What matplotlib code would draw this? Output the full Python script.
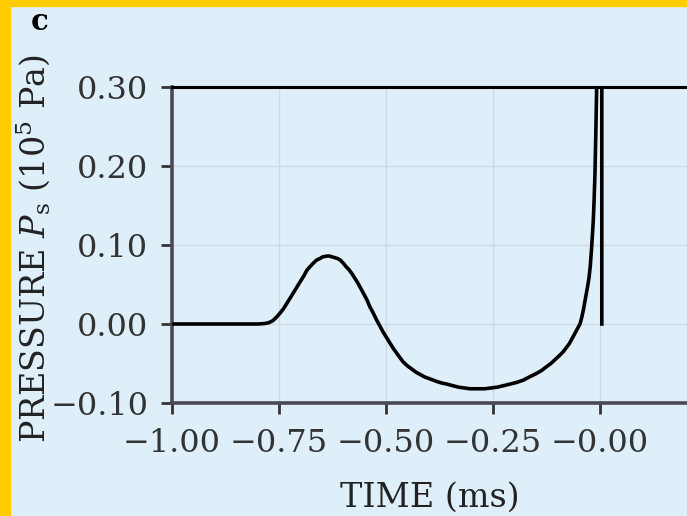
import matplotlib
matplotlib.use('Agg')
from matplotlib import pyplot as plt
from matplotlib.patches import Rectangle

# values
time_ms = [-1.00, -0.90, -0.80, -0.785, -0.775, -0.765, -0.757, -0.748, -0.740, -0.733,
           -0.725, -0.717, -0.708, -0.700, -0.692, -0.685, -0.677, -0.670, -0.662, -0.654,
           -0.648, -0.643, -0.637, -0.632, -0.626, -0.620, -0.614, -0.607, -0.600, -0.594,
           -0.587, -0.580, -0.573, -0.566, -0.560, -0.553, -0.545, -0.538, -0.530, -0.522,
           -0.514, -0.507, -0.499, -0.491, -0.483, -0.475, -0.467, -0.460, -0.450, -0.44,
           -0.43, -0.42, -0.41, -0.40, -0.39, -0.38, -0.368, -0.358, -0.345, -0.33,
           -0.317, -0.304, -0.287, -0.27, -0.255, -0.241, -0.225, -0.21, -0.195, -0.179,
           -0.165, -0.15, -0.137, -0.125, -0.115, -0.105, -0.095, -0.086, -0.079, -0.072,
           -0.066, -0.060, -0.054, -0.047, -0.043, -0.039, -0.035, -0.030, -0.026, -0.023,
           -0.020, -0.016, -0.014, -0.012, -0.010, -0.008, -0.005, 0.004, 0.004]
pressure = [0.000, 0.000, 0.000, 0.0005, 0.0015, 0.004, 0.008, 0.0135, 0.019, 0.025,
            0.032, 0.039, 0.047, 0.054, 0.061, 0.068, 0.073, 0.077, 0.081, 0.083,
            0.085, 0.0855, 0.086, 0.086, 0.085, 0.084, 0.083, 0.081, 0.077, 0.073,
            0.069, 0.064, 0.058, 0.052, 0.046, 0.039, 0.031, 0.022, 0.014, 0.005,
            -0.003, -0.010, -0.017, -0.024, -0.031, -0.037, -0.043, -0.048, -0.053, -0.057,
            -0.061, -0.064, -0.067, -0.069, -0.071, -0.073, -0.075, -0.076, -0.078, -0.080,
            -0.081, -0.082, -0.082, -0.082, -0.081, -0.080, -0.078, -0.076, -0.074, -0.071,
            -0.067, -0.063, -0.059, -0.054, -0.050, -0.045, -0.040, -0.035, -0.030, -0.025,
            -0.019, -0.013, -0.007, 0.000, 0.008, 0.018, 0.030, 0.045, 0.058, 0.073,
            0.095, 0.130, 0.157, 0.190, 0.242, 0.300, 0.400, 0.400, 0.000]

x_ticks = [-1.00, -0.75, -0.50, -0.25, 0.00]
x_labels = ['\u22121.00', '\u22120.75', '\u22120.50', '\u22120.25', '\u22120.00']
y_ticks = [-0.10, 0.00, 0.10, 0.20, 0.30]
y_labels = ['\u22120.10', '0.00', '0.10', '0.20', '0.30']

bg = '#dfeffa'
plt.rcParams['font.family'] = 'DejaVu Serif'
plt.rcParams['mathtext.fontset'] = 'dejavuserif'

fig = plt.figure(figsize=(6.87, 5.16), dpi=100, facecolor=bg)
# yellow frame on the left and top edges
fig.patches.append(Rectangle((0, 0), 10 / 687, 1, transform=fig.transFigure, color='#ffcc00', zorder=0))
fig.patches.append(Rectangle((0, 1 - 6 / 516), 1, 6 / 516, transform=fig.transFigure, color='#ffcc00', zorder=0))

ax = fig.add_axes([172 / 687, 113 / 516, 515 / 687, 316 / 516])
ax.set_facecolor(bg)
ax.plot(time_ms, pressure, color='black', lw=2.6, solid_joinstyle='round', zorder=3)

ax.set_xlim(-1.0, 0.203)
ax.set_ylim(-0.10, 0.30)
ax.set_xticks(x_ticks, x_labels)
ax.set_yticks(y_ticks, y_labels)
ax.grid(color='#cdd9e3', lw=1.0, zorder=0)

for side in ['left', 'bottom']:
    ax.spines[side].set_color('#4a4a55')
    ax.spines[side].set_linewidth(2.6)
ax.spines['top'].set_color('black')
ax.spines['top'].set_linewidth(2.2)
ax.spines['right'].set_visible(False)

ax.tick_params(axis='both', direction='out', length=8, width=2, color='#333333',
               labelsize=23, labelcolor='#333333')
ax.tick_params(axis='x', pad=10)
ax.tick_params(axis='y', pad=9)

ax.set_xlabel('TIME (ms)', fontsize=24, color='#222222')
ax.set_ylabel('PRESSURE $P_\\mathrm{s}$ (10$^5$ Pa)', fontsize=24, color='#222222')
ax.xaxis.set_label_coords(0.5, -0.25)
ax.yaxis.set_label_coords(-0.233, 0.487)

fig.text(40 / 687, 1 - 21 / 516, 'c', fontsize=21, fontweight='bold', ha='center', va='center')

fig.savefig('out.png', dpi=100, facecolor=bg)
